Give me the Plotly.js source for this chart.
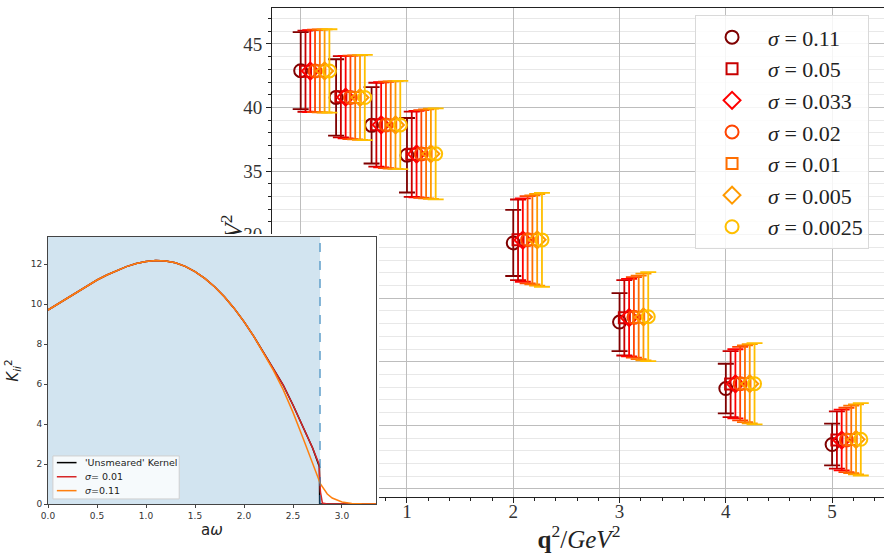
<!DOCTYPE html>
<html><head><meta charset="utf-8">
<script src="https://cdn.plot.ly/plotly-3.0.1.min.js"></script>
<style>
html,body{margin:0;padding:0;overflow:hidden;background:#fff;width:884px;height:553px;}
#main{position:absolute;left:0;top:0;width:890px;height:553px;}
#inset{position:absolute;left:0;top:234px;width:379px;height:319px;background:#fff;z-index:2;}
</style></head><body>
<div id="main"></div><div id="inset"></div>
<script>
// ---------- main chart data ----------
const qSquared = [0, 0.333, 0.667, 1, 2, 3, 4, 5];
const sigmaLabels = ['0.11', '0.05', '0.033', '0.02', '0.01', '0.005', '0.0025'];
const xTickVals = [0, 1, 2, 3, 4, 5];
const xTickText = ['', '1', '2', '3', '4', '5'];   // the 0 label is hidden under the inset

const val_s0110 = [42.90, 40.80, 38.60, 36.25, 29.35, 23.13, 17.90, 13.50];
const err_s0110 = [3.03, 3.00, 3.00, 2.93, 2.60, 2.28, 1.95, 1.64];
const val_s0050 = [42.86, 40.85, 38.65, 36.33, 29.60, 23.46, 18.25, 13.85];
const err_s0050 = [3.19, 3.20, 3.30, 3.35, 3.17, 2.96, 2.60, 2.25];
const val_s0033 = [42.87, 40.82, 38.64, 36.34, 29.58, 23.48, 18.27, 13.85];
const err_s0033 = [3.22, 3.25, 3.35, 3.40, 3.28, 3.05, 2.72, 2.39];
const val_s0020 = [42.88, 40.80, 38.63, 36.35, 29.60, 23.50, 18.28, 13.86];
const err_s0020 = [3.24, 3.28, 3.40, 3.45, 3.43, 3.17, 2.89, 2.53];
const val_s0010 = [42.88, 40.80, 38.63, 36.36, 29.60, 23.50, 18.28, 13.90];
const err_s0010 = [3.26, 3.30, 3.43, 3.50, 3.50, 3.28, 3.02, 2.65];
const val_s0005 = [42.88, 40.79, 38.63, 36.36, 29.60, 23.53, 18.28, 13.90];
const err_s0005 = [3.27, 3.33, 3.45, 3.55, 3.60, 3.41, 3.12, 2.75];
const val_s0025 = [42.88, 40.79, 38.63, 36.36, 29.59, 23.55, 18.28, 13.91];
const err_s0025 = [3.28, 3.35, 3.47, 3.58, 3.70, 3.50, 3.20, 2.85];

// ---------- inset data ----------
const cutoff = 2.776;
const kernelX = [0, 0.1, 0.2, 0.3, 0.4, 0.5, 0.6, 0.7, 0.8, 0.9, 1.0, 1.1, 1.2, 1.3, 1.4, 1.5, 1.6, 1.7, 1.8, 1.9, 2.0, 2.1, 2.2, 2.3, 2.4, 2.5, 2.6, 2.7, 2.77, 2.772, 3.35];
const kernelY = [9.70, 10.00, 10.30, 10.60, 10.90, 11.20, 11.45, 11.68, 11.87, 12.02, 12.12, 12.17, 12.15, 12.06, 11.88, 11.62, 11.28, 10.86, 10.36, 9.78, 9.12, 8.38, 7.58, 6.74, 5.95, 4.95, 3.90, 2.80, 1.85, 0, 0];
const red001X = [0, 0.1, 0.2, 0.3, 0.4, 0.5, 0.6, 0.7, 0.8, 0.9, 1.0, 1.1, 1.2, 1.3, 1.4, 1.5, 1.6, 1.7, 1.8, 1.9, 2.0, 2.1, 2.2, 2.3, 2.4, 2.5, 2.6, 2.7, 2.765, 2.78, 2.8, 2.85, 3.35];
const red001Y = [9.70, 10.00, 10.30, 10.60, 10.90, 11.20, 11.45, 11.68, 11.87, 12.02, 12.12, 12.17, 12.15, 12.06, 11.88, 11.62, 11.28, 10.86, 10.36, 9.78, 9.12, 8.38, 7.58, 6.74, 5.95, 4.95, 3.90, 2.80, 2.00, 0.60, 0.05, 0, 0];
const org011X = [0, 0.1, 0.2, 0.3, 0.4, 0.5, 0.6, 0.7, 0.8, 0.9, 1.0, 1.1, 1.2, 1.3, 1.4, 1.5, 1.6, 1.7, 1.8, 1.9, 2.0, 2.1, 2.2, 2.3, 2.4, 2.5, 2.6, 2.7, 2.78, 2.85, 2.9, 3.0, 3.1, 3.2, 3.35];
const org011Y = [9.70, 10.00, 10.30, 10.60, 10.90, 11.20, 11.45, 11.68, 11.87, 12.02, 12.12, 12.17, 12.15, 12.06, 11.88, 11.62, 11.28, 10.86, 10.36, 9.78, 9.12, 8.38, 7.56, 6.68, 5.72, 4.58, 3.32, 2.05, 1.00, 0.50, 0.30, 0.10, 0.03, 0.01, 0];
const insetLegend = ["'Unsmeared' Kernel", "<i>σ</i>= 0.01", "<i>σ</i>=0.11"];

// ---------- main chart ----------
const series = [
  [val_s0110, err_s0110], [val_s0050, err_s0050], [val_s0033, err_s0033],
  [val_s0020, err_s0020], [val_s0010, err_s0010], [val_s0005, err_s0005], [val_s0025, err_s0025]
];
const colors = ['#7f0000', '#c80000', '#ff0000', '#ff4400', '#ff6e00', '#ff9a00', '#ffbf00'];
const symbols = ['circle-open', 'square-open', 'diamond-open', 'circle-open', 'square-open', 'diamond-open', 'circle-open'];
const sizes = [13, 11, 13, 13, 11, 13, 13];
const dx = 0.045;

const traces = series.map((s, i) => ({
  type: 'scatter', mode: 'markers',
  x: qSquared.map(q => q + i * dx), y: s[0],
  error_y: {type: 'data', array: s[1], visible: true, color: colors[i], thickness: 1.8, width: 8},
  marker: {symbol: symbols[i], size: sizes[i], color: colors[i], line: {width: 2, color: colors[i]}},
  name: '<i>σ</i> = ' + sigmaLabels[i], legendgroup: 'g' + i
}));

const axLine = '#222';
const layout = {
  width: 890, height: 553,
  margin: {l: 272, r: 4, t: 8, b: 56},
  paper_bgcolor: 'rgba(0,0,0,0)', plot_bgcolor: '#fff',
  font: {family: 'Liberation Serif, serif', size: 18, color: '#333'},
  showlegend: true,
  xaxis: {
    range: [-0.27, 5.507], tickmode: 'array', tickvals: xTickVals, ticktext: xTickText,
    ticks: 'outside', ticklen: 5, tickwidth: 1, tickcolor: axLine, ticklabelstandoff: -8,
    showline: true, linecolor: axLine, linewidth: 1, mirror: true,
    showgrid: true, gridcolor: '#bdbdbd', gridwidth: 1, zeroline: false,
    minor: {dtick: 0.2, ticks: 'outside', ticklen: 3, tickcolor: axLine, showgrid: false},
    tickfont: {size: 19},
    title: {text: '<b>q</b><sup>2</sup>/<i>GeV</i><sup>2</sup>', font: {size: 25, color: '#222'}, standoff: 16}
  },
  yaxis: {
    range: [9.37, 47.83], dtick: 5, tick0: 0,
    ticks: 'outside', ticklen: 5, tickwidth: 1, tickcolor: axLine,
    showline: true, linecolor: axLine, linewidth: 1, mirror: true,
    showgrid: true, gridcolor: '#bdbdbd', gridwidth: 1, zeroline: false,
    minor: {dtick: 1, ticks: 'outside', ticklen: 3, tickcolor: axLine, showgrid: true, gridcolor: '#e8e8e8'},
    tickfont: {size: 19}
  },
  annotations: [{
    xref: 'paper', yref: 'paper', x: -0.066, y: 0.5, xanchor: 'center', yanchor: 'middle',
    textangle: -90, showarrow: false,
    text: '<i>X</i>/<i>GeV</i><sup>2</sup>', font: {size: 25, color: '#222'}
  }],
  legend: {
    x: 0.689, y: 0.985, xanchor: 'left', yanchor: 'top',
    bgcolor: 'rgba(255,255,255,0.85)', bordercolor: '#d9d9d9', borderwidth: 1,
    font: {size: 22, color: '#222'}, tracegroupgap: 0, itemwidth: 62
  }
};
Plotly.newPlot('main', traces, layout, {staticPlot: true, displayModeBar: false});

// ---------- inset ----------
const insetTraces = [
  {type: 'scatter', mode: 'lines', x: kernelX, y: kernelY, line: {color: '#000000', width: 1.5}, showlegend: false},
  {type: 'scatter', mode: 'lines', x: red001X, y: red001Y, line: {color: '#d62728', width: 1.5}, showlegend: false},
  {type: 'scatter', mode: 'lines', x: org011X, y: org011Y, line: {color: '#ff7f0e', width: 1.5}, showlegend: false}
];
const legColors = ['#000000', '#d62728', '#ff7f0e'];
const legRows = [0.155, 0.102, 0.050];
const insetShapes = [
  {type: 'rect', xref: 'x', yref: 'y domain', x0: 0, x1: cutoff, y0: 0, y1: 1,
   fillcolor: 'rgba(31,119,180,0.2)', line: {width: 0}, layer: 'below'},
  {type: 'line', xref: 'x', yref: 'y domain', x0: cutoff, x1: cutoff, y0: 0, y1: 1,
   line: {color: '#1f77b4', width: 1, dash: 'dash'}, layer: 'above'},
  {type: 'rect', xref: 'x domain', yref: 'y domain', x0: 0.015, x1: 0.40, y0: 0.019, y1: 0.18,
   fillcolor: 'rgba(255,255,255,0.8)', line: {color: '#d0d0d0', width: 1}, layer: 'above'}
];
legRows.forEach((r, i) => insetShapes.push({
  type: 'line', xref: 'x domain', yref: 'y domain', x0: 0.027, x1: 0.087, y0: r, y1: r,
  line: {color: legColors[i], width: 1.5}, layer: 'above'
}));
const insetAnn = insetLegend.map((t, i) => ({
  xref: 'x domain', yref: 'y domain', x: 0.107, y: legRows[i], xanchor: 'left', yanchor: 'middle',
  text: t, showarrow: false, font: {family: 'DejaVu Sans, sans-serif', size: 9.5, color: '#222'}
}));
const insetLayout = {
  width: 379, height: 319,
  margin: {l: 48, r: 3, t: 3, b: 49},
  paper_bgcolor: '#ffffff', plot_bgcolor: '#ffffff',
  font: {family: 'DejaVu Sans, sans-serif', size: 9, color: '#333'},
  showlegend: false,
  xaxis: {
    range: [0, 3.347], dtick: 0.5, tick0: 0, tickformat: '.1f',
    ticks: 'outside', ticklen: 3, tickcolor: '#444', showline: true, linecolor: '#444', linewidth: 1, mirror: true,
    showgrid: false, zeroline: false,
    title: {text: 'a<i>ω</i>', font: {size: 15, color: '#222'}, standoff: 4}
  },
  yaxis: {
    range: [0, 13.35], dtick: 2, tick0: 0,
    ticks: 'outside', ticklen: 3, tickcolor: '#444', showline: true, linecolor: '#444', linewidth: 1, mirror: true,
    showgrid: false, zeroline: false,
    title: {text: '<i>K</i><sub><i>ii</i></sub><sup>2</sup>', font: {size: 15, color: '#222'}, standoff: 8}
  },
  shapes: insetShapes,
  annotations: insetAnn
};
Plotly.newPlot('inset', insetTraces, insetLayout, {staticPlot: true, displayModeBar: false});
</script>
</body></html>
